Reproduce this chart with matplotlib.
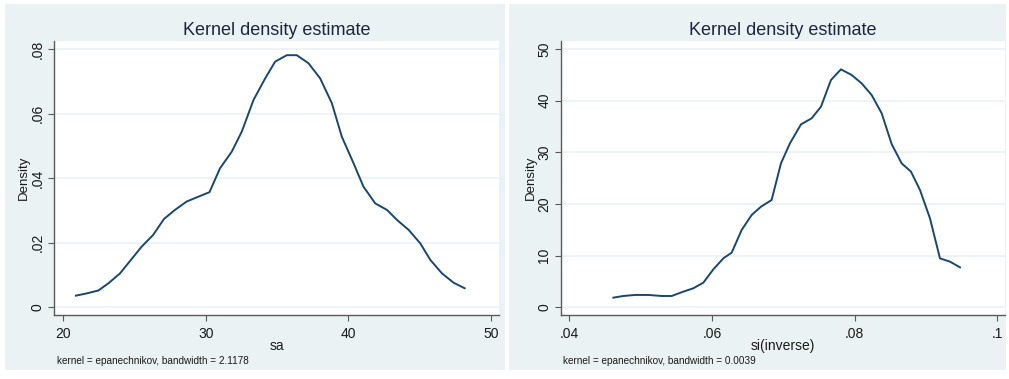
import matplotlib
matplotlib.use("Agg")
import matplotlib.pyplot as plt
from matplotlib.patches import Rectangle

plt.rcParams['font.family'] = ['Liberation Sans', 'DejaVu Sans']

# ---- data: left panel (sa) ----
sa_x = [20.89, 21.64, 22.46, 23.16, 23.98, 24.75, 25.5, 26.3, 27.07, 27.84,
        28.66, 29.48, 30.26, 31.0, 31.83, 32.53, 33.35, 34.17, 34.87, 35.69,
        36.39, 37.21, 38.03, 38.85, 39.55, 40.37, 41.07, 41.9, 42.72, 43.42,
        44.24, 45.06, 45.76, 46.58, 47.4, 48.17]
sa_y = [0.0036, 0.0043, 0.0052, 0.0074, 0.0105, 0.0147, 0.0188, 0.0224, 0.0274, 0.0302,
        0.0328, 0.0343, 0.0357, 0.0431, 0.0483, 0.0545, 0.0643, 0.0710, 0.0762, 0.0782,
        0.0782, 0.0757, 0.0710, 0.0633, 0.0529, 0.0447, 0.0374, 0.0322, 0.0302, 0.0271,
        0.0240, 0.0198, 0.0147, 0.0105, 0.0076, 0.0059]

# ---- data: right panel (si(inverse)) ----
si_x = [0.04617, 0.04757, 0.0492, 0.05107, 0.05294, 0.05435, 0.05598, 0.05738, 0.05879,
        0.06019, 0.06159, 0.06276, 0.06416, 0.06556, 0.06687, 0.06836, 0.06967, 0.07093,
        0.07248, 0.07397, 0.07528, 0.07668, 0.07808, 0.07958, 0.08098, 0.08238, 0.08379,
        0.08519, 0.08659, 0.0879, 0.08916, 0.09056, 0.09196, 0.09336, 0.09477]
si_y = [1.87, 2.19, 2.39, 2.39, 2.19, 2.19, 3.03, 3.68, 4.77,
        7.35, 9.48, 10.58, 14.97, 17.87, 19.48, 20.77, 27.87, 31.74,
        35.42, 36.58, 38.84, 44.0, 46.06, 44.97, 43.35, 41.1, 37.55,
        31.6, 27.87, 26.26, 22.71, 17.23, 9.48, 8.84, 7.74]

sa_xticks = [20, 30, 40, 50]
sa_xticklabels = ['20', '30', '40', '50']
sa_yticks = [0, 0.02, 0.04, 0.06, 0.08]
sa_yticklabels = ['0', '.02', '.04', '.06', '.08']

si_xticks = [0.04, 0.06, 0.08, 0.10]
si_xticklabels = ['.04', '.06', '.08', '.1']
si_yticks = [0, 10, 20, 30, 40, 50]
si_yticklabels = ['0', '10', '20', '30', '40', '50']

titles = ['Kernel density estimate', 'Kernel density estimate']
xlabels = ['sa', 'si(inverse)']
notes = ['kernel = epanechnikov, bandwidth = 2.1178',
         'kernel = epanechnikov, bandwidth = 0.0039']

W, H = 1009, 379
BG = '#EAF2F3'
LINE = '#1A476F'
TITLE_C = '#1E2540'
AX_C = '#5a5a5a'
TXT_C = '#1a1a1a'

fig = plt.figure(figsize=(W / 100, H / 100), dpi=100)
fig.patch.set_facecolor('white')

def fx(px):
    return px / W

def fy(py):
    return 1 - py / H

# panel backgrounds
for (x0, x1) in [(5, 505), (509, 1006)]:
    fig.patches.append(Rectangle((fx(x0), fy(370)), fx(x1 - x0), (370 - 4) / H,
                                 transform=fig.transFigure, facecolor=BG,
                                 edgecolor='none', zorder=-5))

panels = [
    dict(l=54, r=499, x=sa_x, y=sa_y, xt=sa_xticks, xtl=sa_xticklabels,
         yt=sa_yticks, ytl=sa_yticklabels, xlim=(19.35, 50.58), ylim=(-0.0024, 0.0826),
         note_x=57),
    dict(l=561, r=1005, x=si_x, y=si_y, xt=si_xticks, xtl=si_xticklabels,
         yt=si_yticks, ytl=si_yticklabels, xlim=(0.03883, 0.10108), ylim=(-1.49, 51.55),
         note_x=563),
]
top, bot = 41, 315

for i, p in enumerate(panels):
    ax = fig.add_axes([fx(p['l']), fy(bot), fx(p['r'] - p['l']), (bot - top) / H])
    ax.set_zorder(2)
    ax.set_facecolor('white')
    ax.plot(p['x'], p['y'], color=LINE, lw=1.4, zorder=3)
    ax.set_xlim(*p['xlim'])
    ax.set_ylim(*p['ylim'])
    ax.set_xticks(p['xt'])
    ax.set_xticklabels(p['xtl'])
    ax.set_yticks(p['yt'])
    ax.set_yticklabels(p['ytl'], rotation=90, va='center')
    for yv in p['yt']:
        ax.axhline(yv, color=BG, lw=1.2, zorder=1)
    for s in ['top', 'right']:
        ax.spines[s].set_visible(False)
    for s in ['left', 'bottom']:
        ax.spines[s].set_color(AX_C)
        ax.spines[s].set_linewidth(1.0)
    ax.tick_params(axis='both', direction='out', length=4, width=0.8, color=AX_C,
                   labelsize=10, labelcolor=TXT_C)
    ax.tick_params(axis='x', pad=5)
    ax.tick_params(axis='y', pad=3)
    ax.set_xlabel(xlabels[i], fontsize=10, color=TXT_C, labelpad=-2)
    ax.set_ylabel('Density', fontsize=9.5, color=TXT_C, labelpad=0)
    ax.set_title(titles[i], fontsize=13, color=TITLE_C, pad=4)
    fig.text(fx(p['note_x']), fy(361), notes[i], fontsize=7.2, color=TXT_C,
             ha='left', va='center', zorder=3)

fig.savefig('out.png', dpi=100, facecolor='white')
